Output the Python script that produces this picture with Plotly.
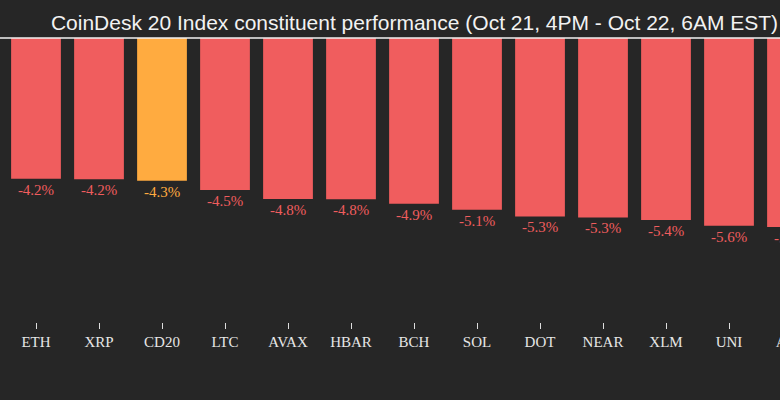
import plotly.graph_objects as go

categories = ["ETH", "XRP", "CD20", "LTC", "AVAX", "HBAR", "BCH", "SOL", "DOT", "NEAR", "XLM", "UNI", "ADA"]
values = [-4.20, -4.21, -4.26, -4.53, -4.80, -4.81, -4.94, -5.12, -5.32, -5.35, -5.43, -5.60, -5.64]
highlight = "CD20"

RED = "#F05D5E"
ORANGE = "#FFAB40"
BG = "#262626"

colors = [ORANGE if c == highlight else RED for c in categories]

W = 824  # wider than the 780 window; the right part is cropped like the reference

fig = go.Figure(go.Bar(
    x=categories,
    y=values,
    marker=dict(color=colors, line=dict(width=0)),
    texttemplate="%{y:.1f}%",
    textposition="outside",
    textfont=dict(family="Liberation Serif, serif", size=15, color=colors),
    cliponaxis=False,
    width=0.79,
))

fig.add_shape(type="line", xref="paper", x0=0, x1=1, yref="y", y0=0, y1=0,
              line=dict(color="#f2f2f2", width=1.5), layer="above")

fig.update_layout(
    width=W, height=400,
    paper_bgcolor=BG, plot_bgcolor=BG,
    margin=dict(l=0, r=0, t=37, b=78),
    showlegend=False,
    title=dict(
        text="CoinDesk 20 Index constituent performance (Oct 21, 4PM - Oct 22, 6AM EST)",
        font=dict(family="Liberation Sans, Arial, sans-serif", size=21, color="#f2f2f2"),
        x=414.5 / W, xanchor="center", xref="container",
        y=1 - 23 / 400, yanchor="middle", yref="container",
    ),
    xaxis=dict(
        range=[-36 / 63, (W - 36) / 63],
        showgrid=False, zeroline=False, showline=False,
        ticks="outside", ticklen=6, tickwidth=1, tickcolor="#dddddd",
        tickfont=dict(family="Liberation Serif, serif", size=15, color="#e6e6e6"),
        fixedrange=True,
    ),
    yaxis=dict(
        range=[-8.47, 0.03],
        showgrid=False, zeroline=False, showline=False,
        showticklabels=False, ticks="", fixedrange=True,
    ),
)

fig.write_html(
    "out.html",
    config={"displayModeBar": False, "staticPlot": True},
    post_script=(
        "document.body.style.margin='0';"
        "document.body.style.overflow='hidden';"
        "document.documentElement.style.overflow='hidden';"
        "document.body.style.background='#262626';"
    ),
)
